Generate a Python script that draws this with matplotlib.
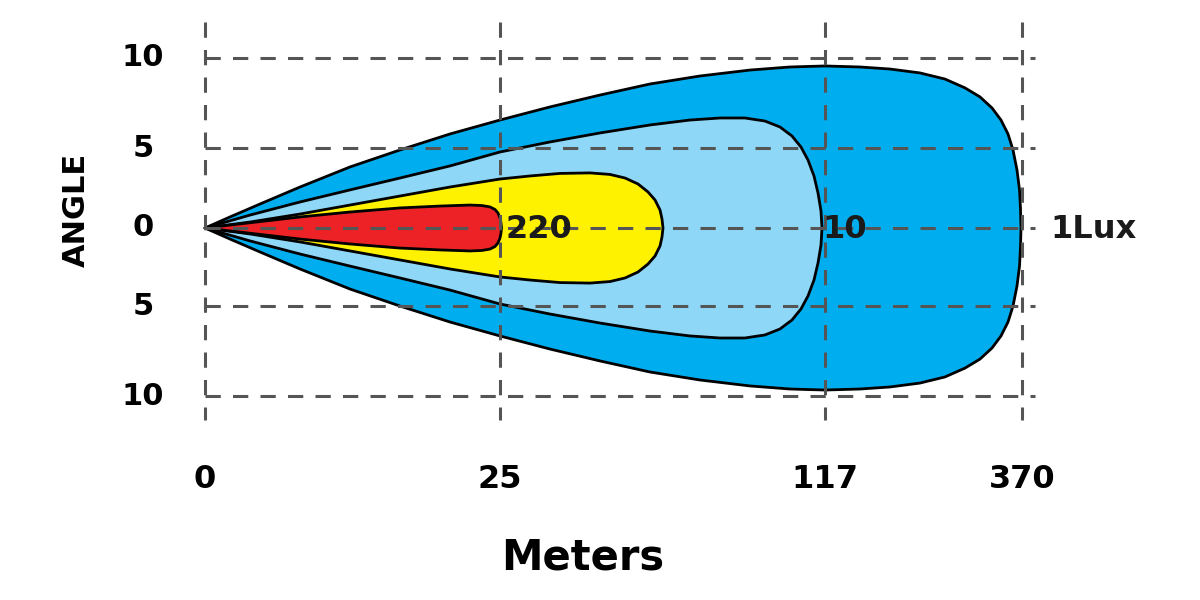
# Beam pattern of the lamp: iso-lux contours (220, 10, 1 Lux) over distance and angle
import numpy as np
import matplotlib.pyplot as plt

plt.rcParams['font.family'] = ['DejaVu Sans']

# axis ticks (x positions are along the drawn chart, labels are meters)
x_tick_pos = [0, 295, 620, 817]
x_tick_labels = ["0", "25", "117", "370"]
y_tick_pos = [10, 4.7, 0, -4.6, -9.9]
y_tick_labels = ["10", "5", "0", "5", "10"]

# contour half widths (degrees) along the chart position
outer_x = [0, 25, 55, 95, 145, 195, 245, 295, 345, 395, 445, 495, 545, 585, 620,
           655, 685, 715, 740, 760, 775, 787, 796, 803, 808, 812, 814.5, 815.5, 816]
outer_h = [0, 0.65, 1.41, 2.41, 3.59, 4.59, 5.53, 6.35, 7.12, 7.82, 8.47, 8.94,
           9.29, 9.47, 9.53, 9.47, 9.35, 9.12, 8.76, 8.24, 7.71, 7.06, 6.35, 5.53,
           4.59, 3.41, 2.24, 1.12, 0]

mid_x = [0, 45, 95, 145, 195, 245, 295, 345, 395, 445, 485, 515, 540, 560, 575,
         587, 596, 603, 609, 613, 616, 617]
mid_h = [0, 0.76, 1.53, 2.24, 2.94, 3.65, 4.47, 5.06, 5.59, 6.06, 6.35, 6.47,
         6.47, 6.29, 5.94, 5.41, 4.76, 4.0, 3.06, 2.06, 1.0, 0]

yel_x = [0, 45, 95, 145, 195, 245, 295, 325, 355, 385, 405, 420, 433, 443, 450,
         455, 457, 458]
yel_h = [0, 0.35, 0.82, 1.35, 1.88, 2.41, 2.88, 3.06, 3.21, 3.24, 3.15, 2.94,
         2.59, 2.12, 1.65, 1.06, 0.53, 0]

red_x = [0, 35, 95, 145, 195, 235, 265, 277, 285, 290, 293, 295, 296, 296.5]
red_h = [0, 0.24, 0.65, 0.94, 1.18, 1.29, 1.35, 1.32, 1.24, 1.09, 0.88, 0.59,
         0.29, 0]

contours = [
    (outer_x, outer_h, "#00aeef"),
    (mid_x, mid_h, "#8fd7f7"),
    (yel_x, yel_h, "#fff200"),
    (red_x, red_h, "#ec2227"),
]

lux_labels = ["220", "10", "1Lux"]
lux_label_x = [300, 617, 845]

fig = plt.figure(figsize=(12, 6), dpi=100)
ax = fig.add_axes([0, 0, 1, 1])
ax.set_xlim(-205, 995)
ax.set_ylim(-21.88, 13.41)
ax.axis('off')

for xs, hs, col in contours:
    xs = np.array(xs, dtype=float)
    hs = np.array(hs, dtype=float)
    px = np.concatenate([xs, xs[::-1]])
    py = np.concatenate([hs, -hs[::-1]])
    ax.fill(px, py, facecolor=col, edgecolor="black", linewidth=2.0, zorder=2,
            joinstyle='round')

grid_kw = dict(color="#555555", linewidth=2.2, linestyle=(0, (5, 4)), zorder=3)
for xv in x_tick_pos:
    ax.plot([xv, xv], [12.1, -11.3], **grid_kw)
for yv in y_tick_pos:
    ax.plot([0, 830], [yv, yv], **grid_kw)

for yv, lab in zip(y_tick_pos, y_tick_labels):
    ax.text(-62, yv, lab, fontsize=22, fontweight='bold', ha='center', va='center')
for xv, lab in zip(x_tick_pos, x_tick_labels):
    ax.text(xv, -14.8, lab, fontsize=23, fontweight='bold', ha='center', va='center')

for xv, lab in zip(lux_label_x, lux_labels):
    ax.text(xv, -0.1, lab, fontsize=23, fontweight='bold', color="#1a1a1a",
            ha='left', va='center', zorder=4)

ax.text(378, -19.4, "Meters", fontsize=30, fontweight='bold', ha='center', va='center')
ax.text(-129, 1.06, "ANGLE", fontsize=22, fontweight='bold', ha='center', va='center',
        rotation=90)

plt.savefig("out.png", dpi=100)
